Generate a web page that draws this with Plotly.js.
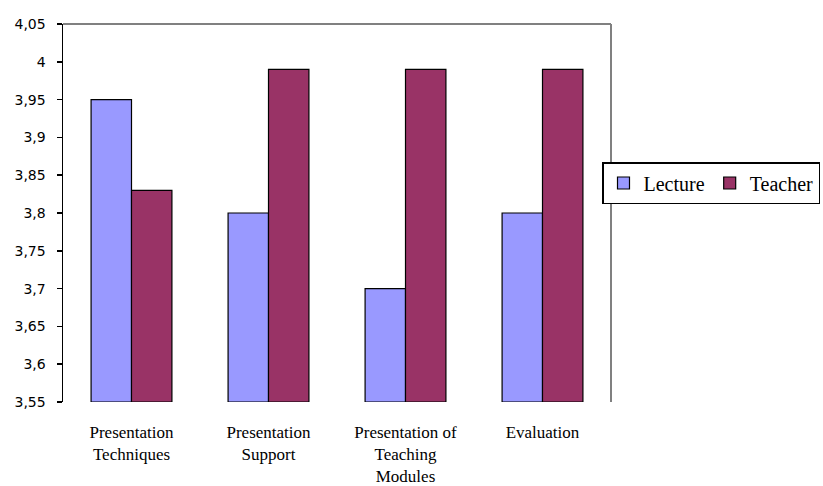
<!DOCTYPE html>
<html>
<head>
<meta charset="utf-8">
<script src="https://cdn.plot.ly/plotly-3.0.1.min.js"></script>
<style>html,body{margin:0;padding:0;background:#fff;}#chart{width:823px;height:486px;}</style>
</head>
<body>
<div id="chart"></div>
<script>
const categories = ["Presentation<br>Techniques", "Presentation<br>Support", "Presentation of<br>Teaching<br>Modules", "Evaluation"];
const lecture = [3.95, 3.80, 3.70, 3.80];
const teacher = [3.83, 3.99, 3.99, 3.99];
const yTickVals = [3.55, 3.6, 3.65, 3.7, 3.75, 3.8, 3.85, 3.9, 3.95, 4, 4.05];
const yTickText = ["3,55", "3,6", "3,65", "3,7", "3,75", "3,8", "3,85", "3,9", "3,95", "4", "4,05"];
const yBase = 3.55;

const traces = [
  {type: 'bar', name: 'Lecture', x: categories, y: lecture.map(v => v - yBase), base: yBase,
   marker: {color: '#9999FF', line: {color: '#000000', width: 1.2}}},
  {type: 'bar', name: 'Teacher', x: categories, y: teacher.map(v => v - yBase), base: yBase,
   marker: {color: '#993366', line: {color: '#000000', width: 1.2}}}
];

const layout = {
  width: 823, height: 486,
  margin: {l: 63, r: 212, t: 24, b: 84, autoexpand: false},
  paper_bgcolor: '#ffffff', plot_bgcolor: '#ffffff',
  barmode: 'group', bargap: 0.41, bargroupgap: 0,
  showlegend: true,
  legend: {orientation: 'h', x: (602 - 63) / 548, xanchor: 'left', y: (402 - 183) / 378, yanchor: 'middle',
           bordercolor: '#000000', borderwidth: 1.5, bgcolor: '#ffffff',
           font: {family: 'Liberation Serif', size: 20, color: '#000'},
           itemwidth: 30, tracegroupgap: 0},
  xaxis: {type: 'category', showgrid: false, zeroline: false, showline: false, ticks: '',
          tickfont: {family: 'Liberation Serif', size: 17, color: '#000'}, ticklabelstandoff: 18},
  yaxis: {range: [3.55, 4.05], tickvals: yTickVals, ticktext: yTickText, showgrid: false, zeroline: false,
          showline: true, linecolor: '#000', linewidth: 1.5, ticks: 'outside', ticklen: 5, tickcolor: '#000', tickwidth: 1.5,
          ticklabelstandoff: 8,
          tickfont: {family: 'DejaVu Sans', size: 14, color: '#000'}},
  shapes: [
    {type: 'line', xref: 'paper', yref: 'paper', x0: 0, x1: 1, y0: 1, y1: 1, line: {color: '#808080', width: 2}},
    {type: 'line', xref: 'paper', yref: 'paper', x0: 1, x1: 1, y0: 0, y1: 1, line: {color: '#808080', width: 2}}
  ]
};
Plotly.newPlot('chart', traces, layout, {staticPlot: true});
</script>
</body>
</html>
